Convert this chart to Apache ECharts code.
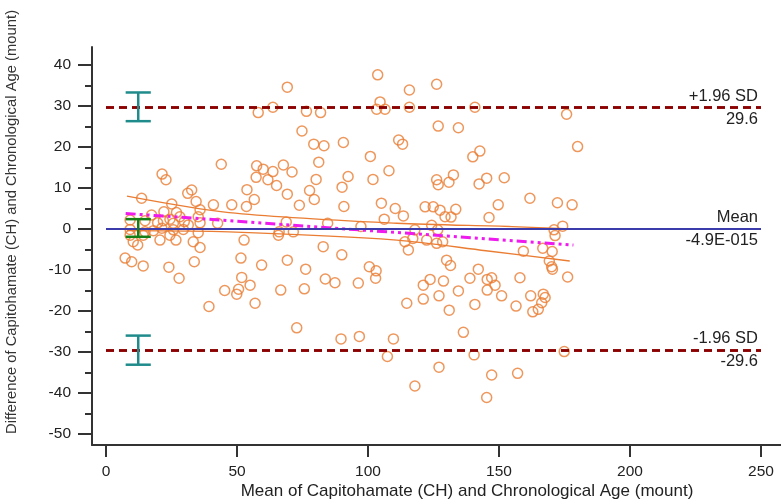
<!DOCTYPE html>
<html>
<head>
<meta charset="utf-8">
<script src="https://cdn.jsdelivr.net/npm/echarts@6/dist/echarts.min.js"></script>
<style>
  html, body { margin: 0; padding: 0; background: #fff; }
  #chart { width: 781px; height: 503px; }
</style>
</head>
<body>
<div id="chart"></div>
<script>
// 横轴: mean of the two methods, 纵轴: difference
const meanX = [
  69.2, 103.7, 115.8, 126.2, 104.6, 63.7, 58.1, 76.5, 81.9, 103.3, 106.5, 115.8, 126.8, 74.8, 79.3, 83.2, 90.6, 111.7, 113.2, 100.9,
  81.2, 44.0, 57.5, 60.0, 63.7, 67.7, 71.0, 108.0, 21.4, 22.9, 57.3, 61.8, 65.1, 80.2, 92.4, 90.1, 101.9, 126.2, 126.8, 53.8,
  32.7, 31.2, 69.2, 77.7, 79.5, 56.6, 13.6, 34.4, 25.1, 41.0, 48.0, 53.6, 73.8, 90.8, 105.1, 110.4, 113.5, 121.8, 124.9, 35.9,
  22.1, 106.2, 84.6, 68.8, 97.3, 124.3,
  17.4, 26.9, 28.2, 24.4, 21.9, 19.7, 14.9, 9.2, 25.7, 29.9, 31.4, 35.2, 35.9, 42.6, 9.2, 14.9, 18.1, 21.3, 25.7, 29.5,
  35.2, 9.2, 14.2, 20.6, 26.7, 24.4, 33.3, 35.9, 10.4, 12.1, 52.7, 7.3, 9.8, 14.2, 24.0, 33.7, 27.9, 51.5, 59.4, 51.8,
  65.8, 66.1, 71.5, 82.9, 90.0, 69.2, 76.2, 83.7, 87.4, 96.3, 100.5, 103.1, 102.9, 55.0, 50.6, 49.9, 45.3, 66.7, 75.7, 56.9,
  39.3, 72.8, 89.7, 96.7, 109.7, 107.4, 127.1, 114.8, 121.1, 121.1, 123.7, 127.1, 114.1, 117.1, 122.4, 115.4, 126.2, 117.9,
  117.9,
  140.8, 175.8, 134.5, 180.0, 140.0, 142.7, 130.9, 132.6, 142.4, 145.3, 152.0, 161.8, 172.3, 177.9, 149.7, 127.5, 133.5, 129.4, 131.7, 146.2,
  174.3,
  171.0, 171.4, 128.5, 126.6, 159.3, 166.7, 170.3, 169.2, 170.1, 170.4, 176.2, 130.0, 131.5, 142.1, 128.8, 131.0, 134.5, 138.9, 145.5, 147.2,
  148.5, 145.5, 151.0, 140.8, 158.0, 156.5, 162.1, 166.9, 167.6, 166.3, 165.0, 162.9, 136.4, 140.5, 174.9, 147.2, 157.1,
  145.3
];
const diffY = [
  34.6, 37.6, 33.9, 35.3, 31.0, 29.7, 28.4, 28.7, 28.4, 29.2, 29.2, 29.7, 25.1, 23.9, 20.7, 20.3, 21.1, 21.7, 20.7, 17.7,
  16.3, 15.8, 15.4, 14.6, 14.0, 15.6, 13.9, 14.2, 13.4, 12.0, 12.6, 12.0, 10.6, 12.1, 12.8, 10.2, 12.1, 12.0, 10.8, 9.6,
  9.5, 8.7, 8.5, 9.4, 7.2, 7.2, 7.5, 6.7, 6.1, 5.9, 5.9, 5.5, 5.8, 5.5, 6.3, 5.0, 3.2, 5.4, 5.4, 4.7,
  4.2, 2.4, 1.4, 1.7, 0.6, 0.9,
  3.4, 4.0, 3.0, 2.4, 2.0, 1.5, 2.0, 2.2, 1.4, 1.8, 1.0, 3.0, 1.5, 1.4, -0.1, -0.7, -0.4, 0.2, -0.2, -0.1,
  -0.9, -1.5, -1.5, -2.7, -2.7, -1.5, -3.1, -4.5, -3.1, -3.9, -2.7, -7.1, -8.0, -9.0, -9.3, -8.0, -12.0, -7.1, -8.8, -11.8,
  -1.5, -0.7, -0.7, -4.3, -6.3, -7.6, -9.8, -12.2, -13.1, -13.2, -9.2, -10.2, -12.0, -13.7, -14.7, -15.9, -15.0, -14.9, -14.6, -18.1,
  -18.9, -24.1, -26.8, -26.2, -26.8, -31.1, -33.7, -18.1, -17.1, -13.7, -12.3, -16.3, -3.1, -2.3, -2.7, -5.1, -3.5, -0.2,
  -38.3,
  29.7, 28.0, 24.7, 20.1, 17.6, 19.0, 11.4, 13.2, 11.0, 12.4, 12.5, 7.5, 6.4, 5.9, 5.9, 4.6, 4.8, 3.0, 2.9, 2.8,
  0.7,
  -0.2, -1.6, -3.1, -0.2, -5.4, -4.7, -5.5, -7.8, -9.2, -9.8, -11.7, -7.6, -8.9, -9.8, -12.7, -19.8, -15.1, -12.0, -12.3, -11.9,
  -13.7, -14.9, -16.3, -18.4, -11.9, -18.8, -16.3, -15.9, -16.7, -18.0, -19.6, -20.2, -25.2, -30.7, -29.9, -35.6, -35.2,
  -41.1
];

// limits of agreement
const meanDiff = -4.9e-15;
const upperLoA = 29.6;
const lowerLoA = -29.6;
const limitNames = ['+1.96 SD', 'Mean', '-1.96 SD'];
const limitTexts = ['29.6', '-4.9E-015', '-29.6'];

// confidence intervals of the limits (x, low, high, cap half width)
const ciBarsTeal = [[12.3, 26.3, 33.3, 4.8], [12.3, -33.1, -26.0, 4.8]];
const ciBarsGreen = [[12.3, -1.9, 2.4, 4.8]];

// regression line of difference on mean, with its band
const regX = [7.5, 178.4];
const regY = [3.8, -3.9];
const bandUpX = [8, 47, 111, 155, 178];
const bandUpY = [8.0, 4.0, 1.4, 0.6, 0.0];
const bandLoX = [8, 47, 111, 145, 177];
const bandLoY = [-0.4, -0.7, -2.7, -5.3, -7.8];

// tick labels
const xTicks = [0, 50, 100, 150, 200, 250];
const yTicks = [-50, -40, -30, -20, -10, 0, 10, 20, 30, 40];

const zip = (a, b) => a.map((v, i) => [v, b[i]]);

const FONT = 'Liberation Sans, Arial, sans-serif';
const ORANGE = '#ea7d33';

function errorBarItem(params, api) {
  const x = api.value(0);
  const lo = api.coord([x, api.value(1)]);
  const hi = api.coord([x, api.value(2)]);
  const half = api.size([api.value(3), 0])[0];
  const style = { stroke: api.visual('color'), lineWidth: 2.5 };
  return {
    type: 'group',
    children: [
      { type: 'line', shape: { x1: lo[0], y1: lo[1], x2: hi[0], y2: hi[1] }, style: style },
      { type: 'line', shape: { x1: lo[0] - half, y1: lo[1], x2: lo[0] + half, y2: lo[1] }, style: style },
      { type: 'line', shape: { x1: hi[0] - half, y1: hi[1], x2: hi[0] + half, y2: hi[1] }, style: style }
    ]
  };
}

function limitLine(value, idx, color, type, width) {
  const ls = { color: color, type: type, width: width };
  const lab = { show: true, color: '#222', fontFamily: FONT, fontSize: 16.5, distance: [3, 3] };
  return [
    { yAxis: value, lineStyle: ls, label: Object.assign({}, lab, { position: 'insideEndTop', formatter: limitNames[idx] }) },
    { yAxis: value, lineStyle: ls, label: Object.assign({}, lab, { position: 'insideEndBottom', formatter: limitTexts[idx] }) }
  ];
}

const chart = echarts.init(document.getElementById('chart'));
const axisLine = { show: true, onZero: false, lineStyle: { color: '#333', width: 2 } };

chart.setOption({
  animation: false,
  backgroundColor: '#fff',
  grid: [
    // data grid: 0..250 x -50..40
    { left: 106, right: 20, top: 65, bottom: 69 },
    // frame grid: only the axis lines
    { left: 92, right: 0, top: 47, bottom: 58 }
  ],
  xAxis: [
    {
      gridIndex: 0, type: 'value', min: xTicks[0], max: xTicks[xTicks.length - 1], interval: 50,
      position: 'bottom', offset: 11,
      axisLine: { show: false, onZero: false },
      axisTick: { show: true, length: 12, lineStyle: { color: '#333', width: 2 } },
      axisLabel: { margin: 19, color: '#222', fontFamily: FONT, fontSize: 15.5 },
      splitLine: { show: false }
    },
    {
      gridIndex: 1, type: 'value', min: 0, max: 1, position: 'bottom',
      axisLine: axisLine, axisTick: { show: false }, axisLabel: { show: false }, splitLine: { show: false }
    }
  ],
  yAxis: [
    {
      gridIndex: 0, type: 'value', min: yTicks[0], max: yTicks[yTicks.length - 1], interval: 10,
      position: 'left', offset: 14,
      axisLine: { show: false, onZero: false },
      axisTick: { show: true, length: 14, lineStyle: { color: '#333', width: 2 } },
      minorTick: { show: true, splitNumber: 2, length: 7, lineStyle: { color: '#333', width: 2 } },
      axisLabel: { margin: 21, color: '#222', fontFamily: FONT, fontSize: 15.5 },
      splitLine: { show: false }
    },
    {
      gridIndex: 1, type: 'value', min: 0, max: 1, position: 'left',
      axisLine: axisLine, axisTick: { show: false }, axisLabel: { show: false }, splitLine: { show: false }
    }
  ],
  graphic: [
    {
      type: 'text', x: 467, y: 491,
      style: {
        text: 'Mean of Capitohamate (CH) and Chronological Age (mount)', fill: '#222',
        font: '17px ' + FONT, align: 'center', verticalAlign: 'middle'
      }
    },
    {
      type: 'text', x: 12, y: 222, rotation: Math.PI / 2,
      style: {
        text: 'Difference of Capitohamate (CH) and Chronological Age (mount)', fill: '#333',
        font: '14.8px ' + FONT, align: 'center', verticalAlign: 'middle'
      }
    }
  ],
  series: [
    {
      type: 'scatter', xAxisIndex: 0, yAxisIndex: 0,
      data: zip(meanX, diffY),
      symbol: 'circle', symbolSize: 10,
      itemStyle: { color: 'rgba(0,0,0,0)', borderColor: ORANGE, borderWidth: 1.5 },
      z: 2
    },
    {
      type: 'line', xAxisIndex: 0, yAxisIndex: 0, data: zip(bandUpX, bandUpY),
      showSymbol: false, smooth: 0.3, lineStyle: { color: ORANGE, width: 1.3 }, z: 3
    },
    {
      type: 'line', xAxisIndex: 0, yAxisIndex: 0, data: zip(bandLoX, bandLoY),
      showSymbol: false, smooth: 0.3, lineStyle: { color: ORANGE, width: 1.3 }, z: 3
    },
    {
      type: 'line', xAxisIndex: 0, yAxisIndex: 0, data: zip(regX, regY),
      showSymbol: false, lineStyle: { color: '#ee1aee', width: 3, type: [10, 4, 3, 4, 3, 4] }, z: 4,
      markLine: {
        silent: true, symbol: 'none',
        data: []
          .concat(limitLine(upperLoA, 0, '#8b0000', [8, 5], 2.5))
          .concat(limitLine(meanDiff, 1, '#3b3bab', 'solid', 1.8))
          .concat(limitLine(lowerLoA, 2, '#8b0000', [8, 5], 2.5))
      }
    },
    {
      type: 'custom', xAxisIndex: 0, yAxisIndex: 0, renderItem: errorBarItem,
      data: ciBarsTeal, itemStyle: { color: '#1f8b8b' }, z: 6
    },
    {
      type: 'custom', xAxisIndex: 0, yAxisIndex: 0, renderItem: errorBarItem,
      data: ciBarsGreen, itemStyle: { color: '#168016' }, z: 6
    }
  ]
});
</script>
</body>
</html>
